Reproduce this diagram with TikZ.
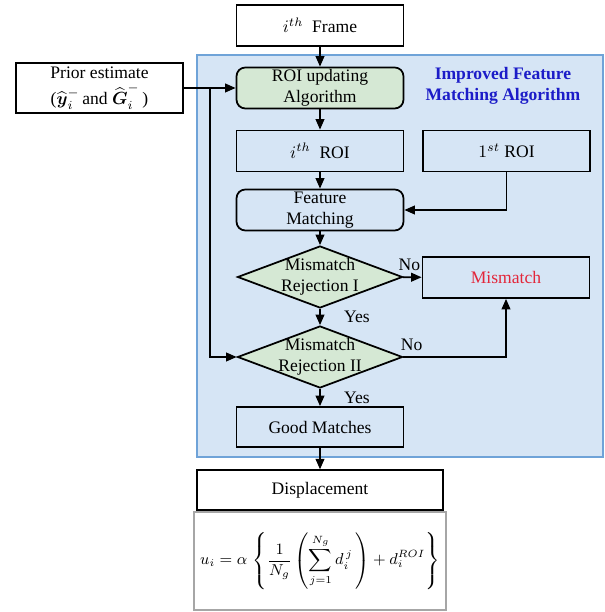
\documentclass[tikz,border=0pt]{standalone}
\usepackage{amsmath,amssymb}
\usepackage{fontspec}
\setmainfont{Liberation Serif}
\usepackage{tikz}
\usetikzlibrary{arrows.meta,shapes.geometric,positioning}
\definecolor{fmblue}{HTML}{D6E5F5}
\definecolor{fmedge}{HTML}{6FA3D8}
\definecolor{fmgreen}{HTML}{D5E8D4}
\definecolor{fmred}{HTML}{E3263A}
\definecolor{fmtitle}{HTML}{1C1CC8}

\begin{document}
\begin{tikzpicture}[
  font=\fontsize{10}{12}\selectfont,
  box/.style={rectangle, draw=black, line width=1pt, minimum width=3.34cm,
    minimum height=0.82cm, inner sep=1pt, align=center},
  rbox/.style={box, rounded corners=5pt},
  decision/.style={diamond, draw=black, line width=1pt, fill=fmgreen,
    minimum width=3.3cm, minimum height=1.24cm, inner sep=0pt},
  flow/.style={-{Triangle[length=6pt,width=5pt]}, line width=0.9pt}
]
\useasboundingbox (0,0) rectangle (12.1,12.24);
% ── Improved feature matching block ──────────────
\fill[fmblue, draw=fmedge, line width=1pt] (3.94,3.1) rectangle (12.06,11.14);
\node[font=\bfseries, text=fmtitle, align=center] (title) at (10.06,10.52)
  {Improved Feature\\Matching Algorithm};
% ── Inputs ───────────────────────────────────────
\node[box, fill=white] (frame) at (6.4,11.73) {$i^{th}$\ \ Frame};
\node[box, fill=white, minimum height=1cm] (prior) at (1.99,10.48)
  {Prior estimate\\[3pt]($\widehat{\boldsymbol{y}}_i^{-}$\,and $\widehat{\boldsymbol{G}}_i^{-}$\,)};
% ── Matching steps ───────────────────────────────
\node[rbox, fill=fmgreen] (roi) at (6.4,10.48) {ROI updating\\Algorithm};
\node[box] (iroi) at (6.4,9.22) {$i^{th}$\ \ ROI};
\node[box] (froi) at (10.13,9.22) {$1^{st}$ ROI};
\node[rbox] (match) at (6.4,8.04) {Feature\\Matching};
\node[decision, label={[align=center]center:Mismatch\\Rejection I}] (rej1) at (6.4,6.7) {};
\node[box, text=fmred] (mism) at (10.12,6.69) {Mismatch};
\node[decision, label={[align=center]center:Mismatch\\Rejection II}] (rej2) at (6.4,5.1) {};
\node[box, minimum height=0.8cm] (good) at (6.4,3.7) {Good Matches};
% ── Output ───────────────────────────────────────
\node[rectangle, draw=gray!70, line width=1pt, fill=white, minimum width=4.92cm,
  minimum height=1.96cm, font=\fontsize{9}{11}\selectfont] (eq) at (6.4,1.02)
  {$\displaystyle u_i = \alpha\,\left\{\frac{1}{N_g}\left(\sum_{j=1}^{N_g} d_i^{\,j}\,\right)
   + d_i^{ROI}\right\}$};
\node[box, fill=white, minimum width=4.92cm, minimum height=0.8cm, above=0pt of eq]
  (disp) {Displacement};
% ── Connectors ───────────────────────────────────
\draw[flow] (frame) -- (roi);
\draw[flow] (prior) -- coordinate[pos=0.5] (fb) (roi);
\draw[flow] (roi) -- (iroi);
\draw[flow] (iroi) -- (match);
\draw[flow] (froi.south) |- (match.east);
\draw[flow] (match) -- (rej1);
\draw[flow] (rej1) -- node[above, pos=0.35] (no1) {No} (mism);
\draw[flow] (rej1) -- node[right=10pt] (yes1) {Yes} (rej2);
\draw[flow] (fb) |- (rej2.west);
\draw[flow] (rej2.east) -| node[above, pos=0.04] (no2) {No} (mism.south);
\draw[flow] (rej2) -- node[right=10pt] (yes2) {Yes} (good);
\draw[flow] (good) -- (disp);
\end{tikzpicture}
\end{document}
